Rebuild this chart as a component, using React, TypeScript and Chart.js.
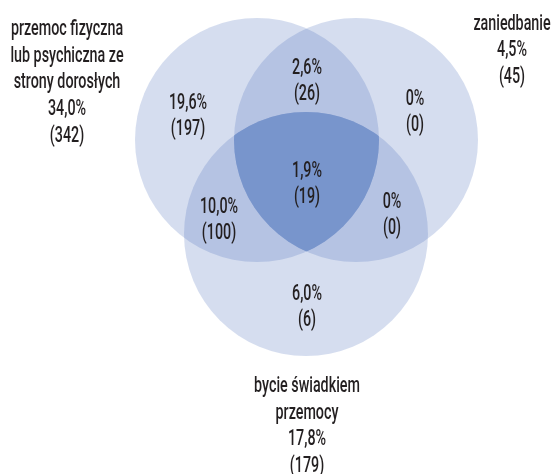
import React, { useEffect, useRef } from "react";
import { Chart, registerables } from "chart.js";

Chart.register(...registerables);

// Data
const setNames = [
  ["przemoc fizyczna", "lub psychiczna ze", "strony dorosłych"],
  ["zaniedbanie"],
  ["bycie świadkiem", "przemocy"],
];
const setPercents = ["34,0%", "4,5%", "17,8%"];
const setCounts = ["(342)", "(45)", "(179)"];

// region order: A only, A∩B, B only, A∩B∩C, A∩C, B∩C, C only
const regionPercents = ["19,6%", "2,6%", "0%", "1,9%", "10,0%", "0%", "6,0%"];
const regionCounts = ["(197)", "(26)", "(0)", "(19)", "(100)", "(0)", "(6)"];

// Layout (pixel-space coordinates of the drawing)
const W = 553;
const H = 474;
const circleCenters = [
  { x: 257, y: 140 },
  { x: 356, y: 140 },
  { x: 306, y: 234 },
];
const circleRadius = 122;
// centre of each two-line region label
const regionLabelPos = [
  { x: 188, y: 114 },
  { x: 307, y: 79 },
  { x: 415, y: 110 },
  { x: 307, y: 182 },
  { x: 219, y: 218 },
  { x: 392, y: 213 },
  { x: 307, y: 305.5 },
];
// baseline of first line of each set label
const setLabelPos = [
  { x: 67, y: 35 },
  { x: 512, y: 29.5 },
  { x: 307, y: 392 },
];
const LINE = 26;
const SET_LINE = 26.7;
const CAP = 15.6;
const FONT = '500 22px Roboto, "Open Sans", sans-serif';
const SQUEEZE = 0.65;
const TEXT_COLOR = "#231f20";

function drawText(ctx: CanvasRenderingContext2D, t: string, x: number, y: number) {
  ctx.save();
  ctx.translate(x, y);
  ctx.scale(SQUEEZE, 1);
  ctx.fillText(t, 0, 0);
  ctx.restore();
}

const labelsPlugin = {
  id: "vennLabels",
  afterDatasetsDraw(chart: any) {
    const ctx = chart.ctx;
    const xs = chart.scales.x;
    const ys = chart.scales.y;
    const meta = chart.getDatasetMeta(0);
    // triple intersection
    ctx.save();
    meta.data.forEach((el: any) => {
      ctx.beginPath();
      ctx.arc(el.x, el.y, el.options.radius, 0, Math.PI * 2);
      ctx.clip();
    });
    ctx.fillStyle = "#7895cc";
    ctx.fillRect(0, 0, chart.width, chart.height);
    ctx.restore();

    ctx.save();
    ctx.font = FONT;
    ctx.fillStyle = TEXT_COLOR;
    ctx.textAlign = "center";
    ctx.textBaseline = "alphabetic";
    regionLabelPos.forEach((p, i) => {
      const px = xs.getPixelForValue(p.x);
      const py = ys.getPixelForValue(p.y);
      drawText(ctx, regionPercents[i], px, py - LINE / 2 + CAP / 2);
      drawText(ctx, regionCounts[i], px, py + LINE / 2 + CAP / 2);
    });
    setLabelPos.forEach((p, i) => {
      const lines = [...setNames[i], setPercents[i], setCounts[i]];
      const px = xs.getPixelForValue(p.x);
      const py = ys.getPixelForValue(p.y);
      lines.forEach((t, j) => drawText(ctx, t, px, py + j * SET_LINE));
    });
    ctx.restore();
  },
};

export default function App() {
  const ref = useRef<HTMLCanvasElement>(null);
  useEffect(() => {
    if (!ref.current) return;
    const chart = new Chart(ref.current, {
      type: "bubble",
      data: {
        datasets: [
          {
            data: circleCenters.map((c) => ({ x: c.x, y: c.y, r: circleRadius })),
            backgroundColor: "rgba(79,114,189,0.24)",
            borderWidth: 0,
            hoverRadius: 0,
            clip: false as any,
          },
        ],
      },
      options: {
        responsive: false,
        animation: false,
        events: [],
        layout: { padding: 0, autoPadding: false },
        scales: {
          x: { type: "linear", min: 0, max: W, display: false },
          y: { type: "linear", min: 0, max: H, reverse: true, display: false },
        },
        plugins: { legend: { display: false }, tooltip: { enabled: false } },
      },
      plugins: [labelsPlugin],
    });
    return () => chart.destroy();
  }, []);
  return (
    <div style={{ position: "fixed", left: 0, top: 0, width: W, height: H, background: "#fff" }}>
      <canvas ref={ref} width={W} height={H} />
    </div>
  );
}
